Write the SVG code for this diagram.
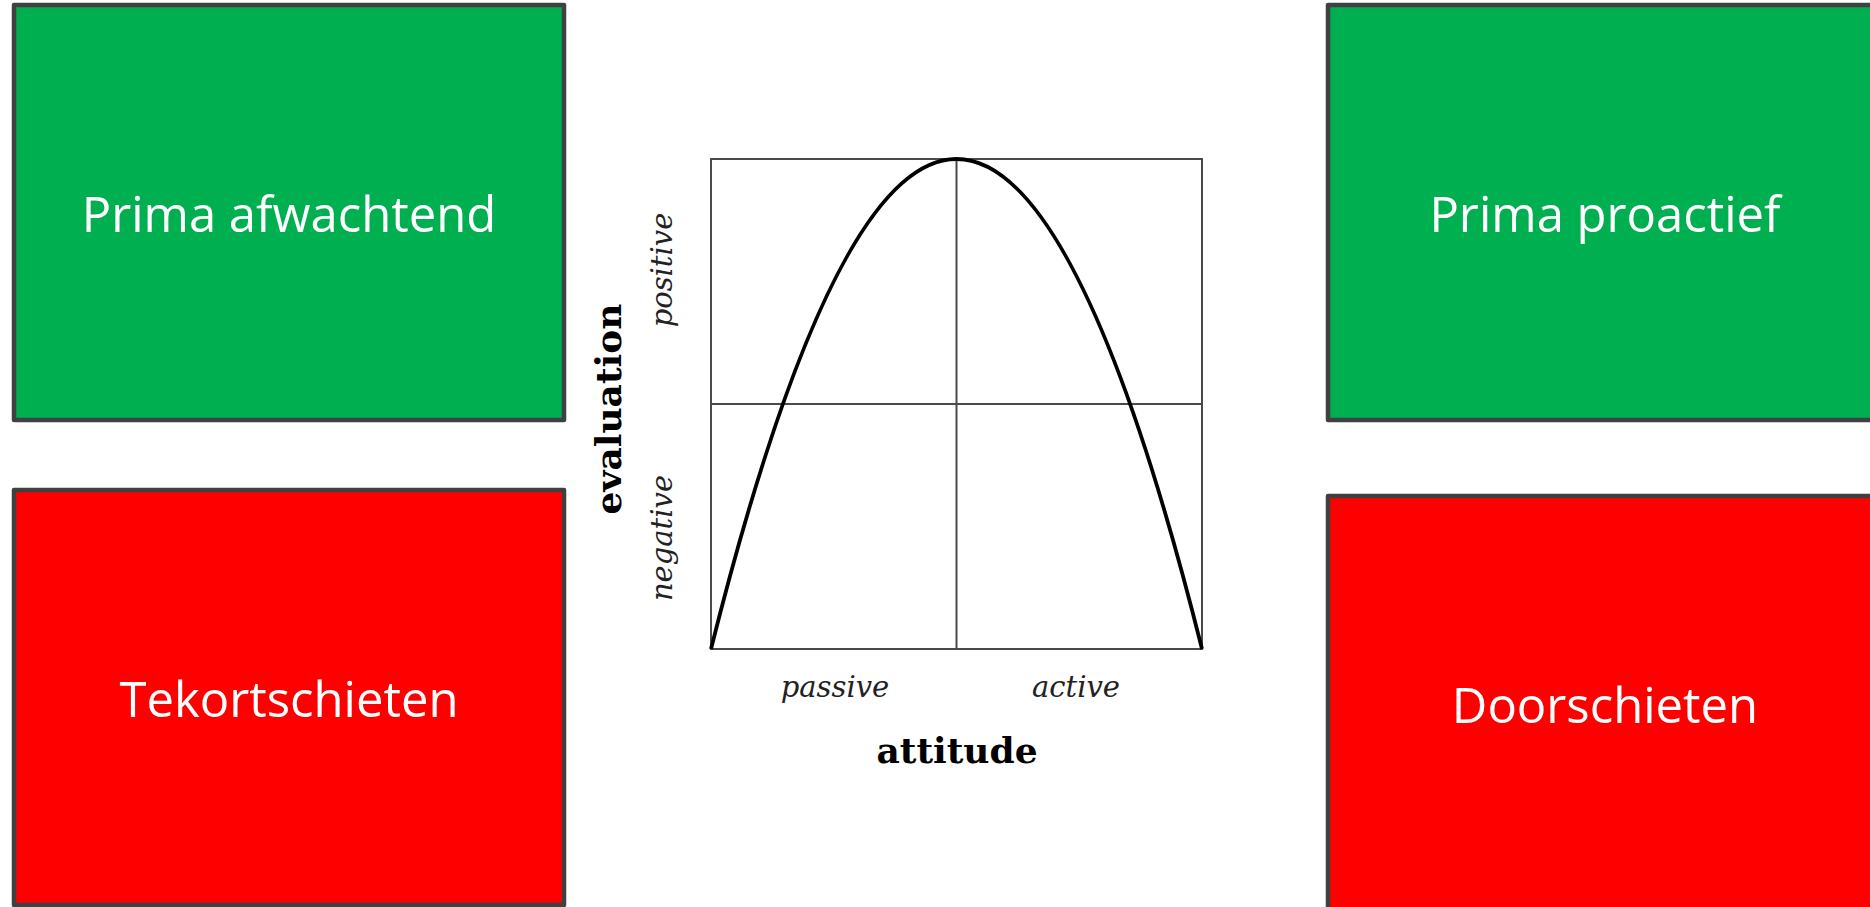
<svg xmlns="http://www.w3.org/2000/svg" width="1870" height="907" viewBox="0 0 1870 907">
<style>
.box{stroke:#404040;stroke-width:4.5;stroke-linejoin:round}
.green{fill:#00AF50}
.red{fill:#FF0000}
.lbl{font-family:"Open Sans","Liberation Sans",sans-serif;font-size:49px;fill:#FFFFFF;text-anchor:middle}
.grid{stroke:#4a4a4a;stroke-width:2;fill:none}
.curve{stroke:#000;stroke-width:3.8;fill:none}
.it{font-family:"DejaVu Serif","Liberation Serif",serif;font-style:italic;font-size:29px;fill:#222;text-anchor:middle}
.bd{font-family:"DejaVu Serif","Liberation Serif",serif;font-weight:bold;font-size:36px;fill:#000;text-anchor:middle}
</style>
<rect width="1870" height="907" fill="#FFFFFF"/>
<g id="prima-afwachtend">
<rect class="box green" x="14" y="5" width="550" height="415"/>
<text class="lbl" x="289" y="232">Prima afwachtend</text>
</g>
<g id="tekortschieten">
<rect class="box red" x="14" y="490" width="550" height="415"/>
<text class="lbl" x="289" y="717">Tekortschieten</text>
</g>
<g id="prima-proactief">
<rect class="box green" x="1328" y="5" width="560" height="415"/>
<text class="lbl" x="1605" y="232">Prima proactief</text>
</g>
<g id="doorschieten">
<rect class="box red" x="1328" y="496" width="560" height="420"/>
<text class="lbl" x="1605" y="723">Doorschieten</text>
</g>
<g id="chart">
<rect class="grid" x="711" y="159" width="491" height="490"/>
<line class="grid" x1="956.5" y1="159" x2="956.5" y2="649"/>
<line class="grid" x1="711" y1="404" x2="1202" y2="404"/>
<path class="curve" d="M711,649 Q956.5,-331 1202,649"/>
<text class="it" x="835" y="697">passive</text>
<text class="it" x="1076" y="697">active</text>
<text class="bd" x="957" y="763">attitude</text>
<text class="it" transform="translate(672,270) rotate(-90)">positive</text>
<text class="it" transform="translate(672,538) rotate(-90)">negative</text>
<text class="bd" transform="translate(621,409) rotate(-90)">evaluation</text>
</g>
</svg>
